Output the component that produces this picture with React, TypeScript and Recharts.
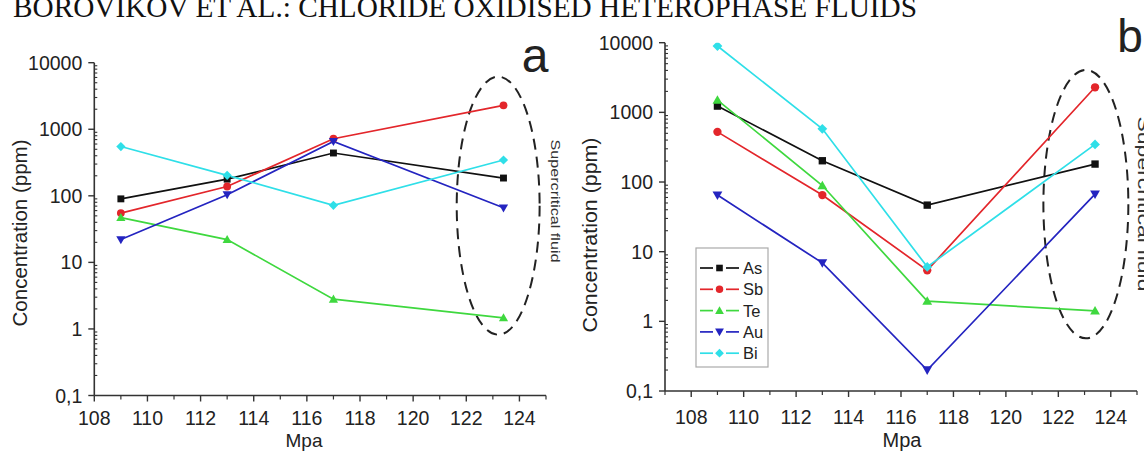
import React from 'react';
import { LineChart, Line, XAxis, YAxis, ReferenceArea } from 'recharts';

// ---------- data ----------
const pressures = [109, 113, 117, 123.4];

const seriesNames = ['As', 'Sb', 'Te', 'Au', 'Bi'];
const seriesColors = ['#111111', '#e3262b', '#3fd83f', '#2424c0', '#2fdfe8'];
const seriesMarkers = ['square', 'circle', 'triangle', 'triangleDown', 'diamond'];

// panel a
const aAs = [90, 178, 440, 185];
const aSb = [55, 138, 720, 2290];
const aTe = [47, 22, 2.8, 1.47];
const aAu = [22, 104, 655, 66];
const aBi = [550, 203, 72, 345];

// panel b
const bAs = [1230, 202, 46.6, 181];
const bSb = [525, 65, 5.4, 2290];
const bTe = [1500, 89, 1.95, 1.41];
const bAu = [65, 6.9, 0.2, 67];
const bBi = [8970, 580, 6.05, 347];

// ticks
const yMajorTicks = [0.1, 1, 10, 100, 1000, 10000];
const yMinorFactors = [2, 3, 4, 5, 6, 7, 8, 9];
const xTicksA = [108, 109, 110, 111, 112, 113, 114, 115, 116, 117, 118, 119, 120, 121, 122, 123, 124, 125];
const xTicksB = [107, 108, 109, 110, 111, 112, 113, 114, 115, 116, 117, 118, 119, 120, 121, 122, 123, 124, 125];
const xLabeledTicks = [108, 110, 112, 114, 116, 118, 120, 122, 124];

// supercritical region (data coords)
const ellipseA = { x1: 121.64, x2: 124.76, y1: 0.82, y2: 6170 };
const ellipseB = { x1: 121.43, x2: 124.67, y1: 0.57, y2: 4055 };

// ---------- helpers ----------
const buildRows = (cols: number[][]) =>
  pressures.map((p, i) => {
    const row: any = { p };
    seriesNames.forEach((n, k) => (row[n] = cols[k][i]));
    return row;
  });

const dataA = buildRows([aAs, aSb, aTe, aAu, aBi]);
const dataB = buildRows([bAs, bSb, bTe, bAu, bBi]);

const yAllTicks: number[] = [];
yMajorTicks.forEach((m, i) => {
  yAllTicks.push(m);
  if (i < yMajorTicks.length - 1) yMinorFactors.forEach((f) => yAllTicks.push(m * f));
});

const isMajorY = (v: number) => {
  const l = Math.log10(v);
  return Math.abs(l - Math.round(l)) < 1e-6;
};
const fmtY = (v: number) => (v < 1 ? String(v).replace('.', ',') : String(Math.round(v)));

const AXIS = '#333';
const FONT = '"Liberation Sans", Arial, sans-serif';

const YTick = (props: any) => {
  const { x, y, payload } = props;
  const v = payload.value;
  if (!isMajorY(v)) {
    return <line x1={x} x2={x + 3} y1={y} y2={y} stroke={AXIS} strokeWidth={1.1} />;
  }
  return (
    <g>
      <line x1={x - 6} x2={x} y1={y} y2={y} stroke={AXIS} strokeWidth={1.4} />
      <text x={x - 12} y={y} dy={7} textAnchor="end" fontSize={19.5} fontFamily={FONT} fill="#222">
        {fmtY(v)}
      </text>
    </g>
  );
};

const makeXTick = (labelDy: number) => (props: any) => {
  const { x, y, payload } = props;
  const v = payload.value;
  if (!xLabeledTicks.includes(v)) {
    return <line x1={x} x2={x} y1={y} y2={y + 4} stroke={AXIS} strokeWidth={1.2} />;
  }
  return (
    <g>
      <line x1={x} x2={x} y1={y} y2={y + 6} stroke={AXIS} strokeWidth={1.4} />
      <text x={x} y={y + labelDy} textAnchor="middle" fontSize={19.5} fontFamily={FONT} fill="#222">
        {v}
      </text>
    </g>
  );
};

const Marker = ({ cx, cy, shape, color, s }: any) => {
  if (cx == null || cy == null) return null;
  switch (shape) {
    case 'square':
      return <rect x={cx - s * 0.75} y={cy - s * 0.75} width={s * 1.5} height={s * 1.5} fill={color} />;
    case 'circle':
      return <circle cx={cx} cy={cy} r={s * 0.85} fill={color} />;
    case 'triangle':
      return <polygon points={`${cx},${cy - s} ${cx - s},${cy + s * 0.75} ${cx + s},${cy + s * 0.75}`} fill={color} />;
    case 'triangleDown':
      return <polygon points={`${cx},${cy + s} ${cx - s},${cy - s * 0.75} ${cx + s},${cy - s * 0.75}`} fill={color} />;
    case 'diamond':
      return <polygon points={`${cx},${cy - s} ${cx + s},${cy} ${cx},${cy + s} ${cx - s},${cy}`} fill={color} />;
    default:
      return null;
  }
};

const EllipseShape = (props: any) => {
  const { x, y, width, height } = props;
  return (
    <ellipse
      cx={x + width / 2}
      cy={y + height / 2}
      rx={width / 2}
      ry={height / 2}
      fill="none"
      stroke="#222"
      strokeWidth={2}
      strokeDasharray="11 7"
    />
  );
};

const Panel = ({ data, margin, xDomain, xTicks, labelDy, ell, markerSize }: any) => (
  <LineChart width={1144} height={452} data={data} margin={margin}>
    <XAxis
      dataKey="p"
      type="number"
      domain={xDomain}
      ticks={xTicks}
      interval={0}
      allowDataOverflow
      height={30}
      tickSize={0}
      tickMargin={0}
      tickLine={false}
      axisLine={{ stroke: AXIS, strokeWidth: 1.6 }}
      tick={makeXTick(labelDy)}
    />
    <YAxis
      scale="log"
      domain={[0.1, 10000]}
      ticks={yAllTicks}
      interval={0}
      allowDataOverflow
      width={40}
      tickSize={0}
      tickMargin={0}
      tickLine={false}
      axisLine={{ stroke: AXIS, strokeWidth: 1.6 }}
      tick={<YTick />}
    />
    <ReferenceArea
      x1={ell.x1}
      x2={ell.x2}
      y1={ell.y1}
      y2={ell.y2}
      ifOverflow="visible"
      shape={<EllipseShape />}
    />
    {seriesNames.map((n, k) => (
      <Line
        key={n}
        dataKey={n}
        type="linear"
        stroke={seriesColors[k]}
        strokeWidth={1.7}
        isAnimationActive={false}
        dot={(p: any) => (
          <Marker key={`${n}-${p.index}`} cx={p.cx} cy={p.cy} shape={seriesMarkers[k]} color={seriesColors[k]} s={markerSize} />
        )}
        activeDot={false}
      />
    ))}
  </LineChart>
);

export default function App() {
  return (
    <div style={{ position: 'absolute', left: 0, top: 0, width: 1144, height: 452, background: '#fff', overflow: 'hidden' }}>
      <div style={{ position: 'absolute', left: 0, top: 0 }}>
        <Panel
          data={dataA}
          margin={{ top: 62.7, right: 598, bottom: 26.5, left: 54.3 }}
          xDomain={[108, 125]}
          xTicks={xTicksA}
          labelDy={29.5}
          ell={ellipseA}
          markerSize={4.6}
        />
      </div>
      <div style={{ position: 'absolute', left: 0, top: 0 }}>
        <Panel
          data={dataB}
          margin={{ top: 42.7, right: 7, bottom: 31, left: 625 }}
          xDomain={[107, 125]}
          xTicks={xTicksB}
          labelDy={33}
          ell={ellipseB}
          markerSize={4.9}
        />
      </div>
      <svg
        width={1144}
        height={452}
        style={{ position: 'absolute', left: 0, top: 0, pointerEvents: 'none' }}
      >
        <text x={13} y={16.5} fontFamily='"Liberation Serif", "Times New Roman", serif' fontSize={29} textLength={904} lengthAdjust="spacingAndGlyphs" fill="#111">
          BOROVIKOV ET AL.: CHLORIDE OXIDISED HETEROPHASE FLUIDS
        </text>

        {/* panel a annotations */}
        <text transform="translate(27,233) rotate(-90)" textAnchor="middle" fontFamily={FONT} fontSize={20} textLength={187} lengthAdjust="spacingAndGlyphs" fill="#222">
          Concentration (ppm)
        </text>
        <text x={304} y={447} textAnchor="middle" fontFamily={FONT} fontSize={19} fill="#222">Mpa</text>
        <text x={535} y={72} textAnchor="middle" fontFamily={FONT} fontSize={48} fill="#222">a</text>
        <text transform="translate(551,201) rotate(90)" textAnchor="middle" fontFamily={FONT} fontSize={13} textLength={123} lengthAdjust="spacingAndGlyphs" fill="#333">
          Supercritical fluid
        </text>

        {/* panel b annotations */}
        <text transform="translate(597,235) rotate(-90)" textAnchor="middle" fontFamily={FONT} fontSize={21} textLength={195} lengthAdjust="spacingAndGlyphs" fill="#222">
          Concentration (ppm)
        </text>
        <text x={902} y={447} textAnchor="middle" fontFamily={FONT} fontSize={20} fill="#222">Mpa</text>
        <text x={1130} y={52} textAnchor="middle" fontFamily={FONT} fontSize={46} fill="#222">b</text>
        <text transform="translate(1138,204) rotate(90)" textAnchor="middle" fontFamily={FONT} fontSize={17} textLength={175} lengthAdjust="spacingAndGlyphs" fill="#333">
          Supercritical fluid
        </text>

        {/* legend (panel b) */}
        <rect x={696} y={248} width={72} height={119} fill="#fff" stroke="#aaa" strokeWidth={1.2} />
        {seriesNames.map((n, k) => {
          const cy = 268 + k * 21.3;
          return (
            <g key={n}>
              <line x1={700} x2={713} y1={cy} y2={cy} stroke={seriesColors[k]} strokeWidth={1.7} />
              <line x1={726} x2={739} y1={cy} y2={cy} stroke={seriesColors[k]} strokeWidth={1.7} />
              <Marker cx={719.5} cy={cy} shape={seriesMarkers[k]} color={seriesColors[k]} s={4.4} />
              <text x={743} y={cy + 6} fontFamily={FONT} fontSize={16.5} fill="#222">{n}</text>
            </g>
          );
        })}
      </svg>
    </div>
  );
}
